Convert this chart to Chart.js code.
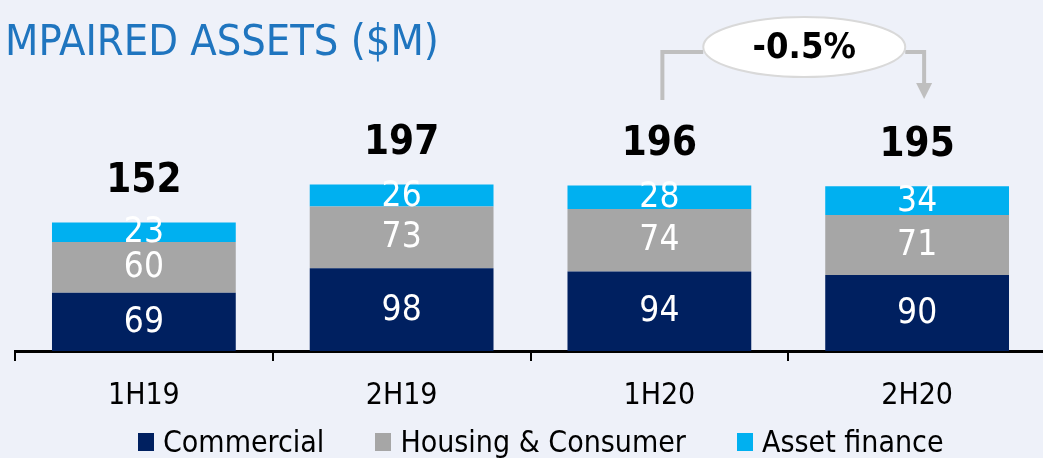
<!DOCTYPE html>
<html>
<head>
<meta charset="utf-8">
<script src="https://cdn.jsdelivr.net/npm/chart.js@4/dist/chart.umd.min.js"></script>
<style>
    html, body { margin: 0; padding: 0; background: #EEF1F9; overflow: hidden; }
    #wrap { position: relative; width: 1060px; height: 458px; }
    #legend {
        position: absolute; left: 138px; top: 424px;
        display: flex; align-items: center; gap: 51px;
        font-family: "DejaVu Sans Condensed", "Liberation Sans Narrow", "DejaVu Sans", sans-serif;
        font-size: 30px; color: #000; white-space: nowrap;
    }
    #legend .item { display: flex; align-items: center; }
    #legend .box { width: 16px; height: 18px; margin-right: 9px; }
</style>
</head>
<body>
<div id="wrap">
    <canvas id="impaired-chart"></canvas>
    <div id="legend"></div>
</div>
<script>
// Data ($M)
const categories = ['1H19', '2H19', '1H20', '2H20'];
const commercial = [69, 98, 94, 90];
const housingConsumer = [60, 73, 74, 71];
const assetFinance = [23, 26, 28, 34];
const totals = [152, 197, 196, 195];
const seriesNames = ['Commercial', 'Housing & Consumer', 'Asset finance'];
const seriesColors = ['#002060', '#A6A6A6', '#00B0F0'];
const changeText = '-0.5%';
const titleText = 'MPAIRED ASSETS ($M)';

const FONT = '"DejaVu Sans Condensed", "Liberation Sans Narrow", "DejaVu Sans", sans-serif';

// Build the legend
const legendEl = document.getElementById('legend');
seriesNames.forEach((name, i) => {
    const item = document.createElement('div');
    item.className = 'item';
    const box = document.createElement('span');
    box.className = 'box';
    box.style.background = seriesColors[i];
    const label = document.createElement('span');
    label.textContent = name;
    item.appendChild(box);
    item.appendChild(label);
    legendEl.appendChild(item);
});

// Segment values in white, totals in bold black above each bar
const valueLabels = {
    id: 'valueLabels',
    afterDatasetsDraw(chart) {
        const ctx = chart.ctx;
        ctx.save();
        ctx.textAlign = 'center';
        ctx.textBaseline = 'middle';
        ctx.fillStyle = '#FFFFFF';
        ctx.font = '35px ' + FONT;
        chart.data.datasets.forEach((ds, i) => {
            const meta = chart.getDatasetMeta(i);
            meta.data.forEach((bar, j) => {
                ctx.fillText(String(ds.data[j]), bar.x, (bar.y + bar.base) / 2 + 1);
            });
        });
        const topMeta = chart.getDatasetMeta(chart.data.datasets.length - 1);
        ctx.fillStyle = '#000000';
        ctx.font = 'bold 40px ' + FONT;
        topMeta.data.forEach((bar, j) => {
            ctx.fillText(String(totals[j]), bar.x, bar.y - 41);
        });
        ctx.restore();
    }
};

// Bracket with ellipse showing change between 1H20 and 2H20
const changeBracket = {
    id: 'changeBracket',
    afterDraw(chart) {
        const ctx = chart.ctx;
        const xs = chart.scales.x;
        const x1 = xs.getPixelForValue(2) + 3;
        const x2 = xs.getPixelForValue(3) + 7;
        const cx = (x1 + x2) / 2 + 11;
        const cy = 47;
        const rx = 101, ry = 30;
        const lineY = 52;
        ctx.save();
        ctx.strokeStyle = '#BFBFBF';
        ctx.lineWidth = 4;
        ctx.beginPath();
        ctx.moveTo(x1, 100);
        ctx.lineTo(x1, lineY);
        ctx.lineTo(cx - rx, lineY);
        ctx.moveTo(cx + rx, lineY);
        ctx.lineTo(x2, lineY);
        ctx.lineTo(x2, 84);
        ctx.stroke();
        ctx.fillStyle = '#BFBFBF';
        ctx.beginPath();
        ctx.moveTo(x2 - 8, 83);
        ctx.lineTo(x2 + 8, 83);
        ctx.lineTo(x2, 99);
        ctx.closePath();
        ctx.fill();
        ctx.beginPath();
        ctx.ellipse(cx, cy, rx, ry, 0, 0, Math.PI * 2);
        ctx.fillStyle = '#FFFFFF';
        ctx.fill();
        ctx.strokeStyle = '#D9D9D9';
        ctx.lineWidth = 2;
        ctx.stroke();
        ctx.fillStyle = '#000000';
        ctx.font = 'bold 36px ' + FONT;
        ctx.textAlign = 'center';
        ctx.textBaseline = 'middle';
        ctx.fillText(changeText, cx, cy + 2);
        ctx.restore();
    }
};

const ctx = document.getElementById('impaired-chart').getContext('2d');
new Chart(ctx, {
    type: 'bar',
    data: {
        labels: categories,
        datasets: [
            { label: seriesNames[0], data: commercial, backgroundColor: seriesColors[0] },
            { label: seriesNames[1], data: housingConsumer, backgroundColor: seriesColors[1] },
            { label: seriesNames[2], data: assetFinance, backgroundColor: seriesColors[2] }
        ]
    },
    options: {
        responsive: true,
        maintainAspectRatio: false,
        animation: false,
        datasets: { bar: { categoryPercentage: 1, barPercentage: 0.713 } },
        layout: { padding: { left: 5, right: 14, top: 0, bottom: 27 } },
        scales: {
            x: {
                stacked: true,
                grid: { display: true, drawOnChartArea: false, drawTicks: true, tickLength: 10, color: '#000', lineWidth: 2, offset: true },
                border: { display: true, color: '#000', width: 3 },
                ticks: { color: '#000', padding: 17, font: { family: FONT, size: 30 } }
            },
            y: {
                stacked: true,
                min: 0,
                max: 320,
                grid: { display: false },
                border: { display: false },
                ticks: { display: false },
                afterFit: (scale) => { scale.width = 10; }
            }
        },
        plugins: {
            legend: { display: false },
            tooltip: { enabled: false },
            title: {
                display: true,
                text: titleText,
                align: 'start',
                color: '#1F75BF',
                font: { family: FONT, size: 43, weight: 'normal' },
                padding: { top: 18, bottom: 11 }
            }
        }
    },
    plugins: [valueLabels, changeBracket]
});
</script>
</body>
</html>
